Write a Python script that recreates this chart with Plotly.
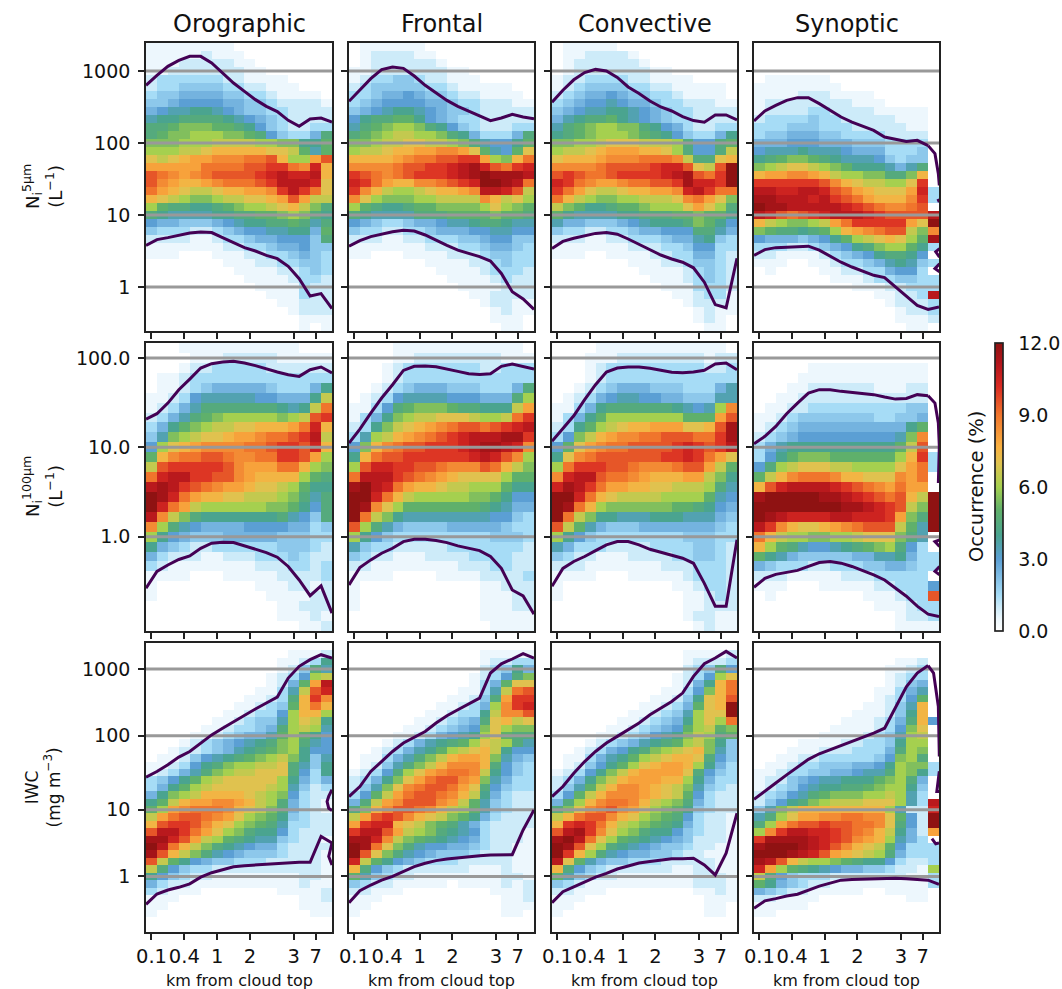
import plotly.graph_objects as go
from plotly.subplots import make_subplots

# cell values are written as one char per cell, half a percent per step:
# 0=0.0 1=0.5 ... 9=4.5 a=5.0 ... o=12.0, "." = no data
CODES = "0123456789abcdefghijklmno"

titles = ["Orographic", "Frontal", "Convective", "Synoptic"]
x_tick_pos = [0, 3, 6, 9, 13, 15]
x_tick_text = ["0.1", "0.4", "1", "2", "3", "7"]
row_ticks = [
    ([3, 12, 21, 30], ["1000", "100", "10", "1"]),
    ([1, 10, 19], ["100.0", "10.0", "1.0"]),
    ([3, 12, 22, 31], ["1000", "100", "10", "1"]),
]
row_labels = ["N<sub>i</sub><sup>5μm</sup><br>(L<sup>−1</sup>)",
              "N<sub>i</sub><sup>100μm</sup><br>(L<sup>−1</sup>)",
              "IWC<br>(mg m<sup>−3</sup>)"]

oro_n5 = ["11111111000000000", "11111211100000000", "11122222110000000", "11222222211000000",
          "23333332211110000", "23344443322111000", "34455554433211110", "44566665544322221",
          "56778876544332222", "78899998765432222", "99abbbaa986432233", "9abbcccbba9643359",
          "bbbcccddddccbb88a", "cccddefffffeeda7ae", "edefgghhhiijfccgj", "gggggiiiijjkkihlf",
          "jihghijjjjklmllmf", "jhgffghiiijkmmmle", "igfeddeffgghkmkie", "fedcbbcddeefgjgdd",
          "ca99889abccdefdb9", "9877778899aabcb98", "6554445678899a979", "4333223456677885a",
          "22221123345566649", "11111112233455644", "11100011122334543", "00000001112233443",
          "00000000111122343", "00000000011112332", "00000000001111322", "00000000000111322",
          "00000000000011222", "00000000000001222", "00000000000000111", "00000000000000101"]
fro_n5 = ["01111110000000000", "01222211000000000", "01222222100000000", "11222222211000000",
          "12334432211100000", "23444443321111100", "33455654432211110", "34566665543322211",
          "45678876544322222", "6899aa86543322222", "79abccb9864322233", "9abcddccb98533359",
          "bbcddeeddcb97668a", "cddeffgghhgea76ae", "ffffghiijjkkgcbfi", "hhhhijjkklmnljikl",
          "kjihijkkklmnonnnm", "lkigffhhijkloonmi", "khfdccdeffghmmljd", "hecbbbccddddhfdec",
          "ca9889aabbbbcecba", "987777999aaaabaa9", "65433455677899877", "43322334555667766",
          "22211223334456644", "11111112223345543", "11000111122234433", "00000001111223433",
          "00000000111123332", "00000000011112322", "00000000001111222", "00000000000112222",
          "00000000000012211", "00000000000001211", "00000000000001110", "00000000000000110"]
con_n5 = ["01111100000000000", "01122221000000000", "01222222100000000", "01222222211000000",
          "12233332211110000", "12344443322111110", "23455654433211110", "34566765543322211",
          "45677887654332222", "57899a87654332222", "79abccbb986532233", "89abcccba98643358",
          "bbccdeeedddc9669a", "cddefgggffec9669d", "efffghhhiiihd99ef", "hhhhijjjjklljedjo",
          "jkjiijkkkklmnjiko", "lkihgghiijjknllko", "kigeddeffgghlmkii", "ifdcbbccdddehigeb",
          "dba889aabcccegec9", "a8777788999aabaa8", "7554445678889ba86", "43322334556669975",
          "22211223334557843", "11111112223346633", "11100111122335532", "00000001112234432",
          "00000000111123432", "00000000011123432", "00000000001113332", "00000000000112331",
          "00000000000012221", "00000000000001211", "00000000000001210", "00000000000000110"]
syn_n5 = ["00000000000000000", "00000000000000000", "00000000000000000", "00000000000000000",
          "01111110000000000", "11111111000000000", "11112221111000000", "12222222211100000",
          "12222332222111110", "23333433222221110", "33344433322222110", "34455544333322220",
          "55566655544433330", "67778777655533340", "89abba98777643440", "bcdeedcba88875790",
          "fgghhgfdccbb99bf0", "kkkkkkjhfeddccek.", "mmllmmljigfeeegl3", "nnmmmlmkjigfffhk3",
          "onnmmmmmlkjihhij.", "mljijklmmmlkjjjjm", "fdcbbcdgikkkkkgeo", "ba9989acfghijjdbh",
          "65554568acdefecan", "33322345689bcca83", "2211112345689986.", "11100112334578743",
          "0100001122335663.", "00000001112334433", "00000000011122333", "0000000000011223m",
          "00000000000012223", "00000000000001223", "00000000000001112", "00000000000000110"]

oro_n100 = ["00011111111111000", "00001112222211111", "00012233333222222", "01123333333333333",
            "01123455555433358", "1123677777665558d", "123579999999878di", "23579abcccccbcdjk",
            "358abcddeefffgilf", "47bcdeefgghiijkmd", "6cefghhhhiijkkjlf", "afhiijjihhiikkjgc",
            "djkkkkkjhgggiifcb", "ilmmkkjjhgffffca9", "mnmkjihggfeedca88", "onligffeedddcb979",
            "oligdccccccbba869", "mhdb9888888897649", "hc976555566665534", "c8654445555544433",
            "85432233333344432", "53222112223334322", "32111111112223323", "11110001111122223",
            "10000000001112212", "10000000000111122", "00000000000011222", "00000000000011121",
            "00000000000000112"]
fro_n100 = ["00001111111111110", "00001122222222111", "00012333333322333", "00012333333333333",
            "00123455544433359", "0123677776665559c", "11369abbba99888dg", "1358bcddeeedccdik",
            "238bdefghijjijklm", "37cdfghijklmmmnnk", "6bfhijjkkklmnnmlh", "8fijjkkkkkklmljhc",
            "cjllkkjjihhhjifdb", "immmkjihgfeeeecaa", "nomligffeddccca88", "oolifdcccccbba866",
            "onhecaaaaaaa98755", "oidb8777777776643", "jc975444455555433", "c8643333333334443",
            "74332222233333332", "43221112222333322", "22111111112223322", "11110000111122223",
            "10000000000011222", "10000000000011122", "10000000000011122", "00000000000011111",
            "00000000000001111"]
con_n100 = ["00001111111111110", "00011122222222122", "00012333333333223", "00012333333333333",
            "00123455544433357", "01235677665544477", "113589999998767ch", "1358acccccccaaagj",
            "238acdeffgggeefjn", "36bdfghhiijjjiikn", "6aeghiijjjjklkjkm", "8ehijjjjjjkklkige",
            "cikkkjjihhhijjgda", "hlmmjiihgfffggdb8", "lnmkiggffeedddc97", "oolifeddddcccca76",
            "onifcbbbbbbaa9865", "oidb8877788877754", "jda75444555555543", "c8643333333344433",
            "75333222233334432", "43221112222334432", "22211111112223332", "11110001111123332",
            "10000000000112332", "10000000000011232", "00000000000011222", "00000000000012211",
            "00000000000001211"]
syn_n100 = ["00000000000000000", "00000000000000000", "00000111111111110", "00001111111111110",
            "00011222222111220", "00112222222222220", "01122333333333440", "11234444444334450",
            "123455555555558a0", "23456666666667bh0", "3578888888888adj0", "368abbbaaaaaacfk3",
            "69cdeeeddccccegi3", "adfhiiihffeeehgi.", "fjlmmmmlkjihgigg.", "nooooonnmlkjijfdo",
            "oooooooonnmlkjdbo", "onmllllmmlllkgb9o", "mkhfeefghijjjda7o", "ifdccbbccdeeeb97.",
            "fca9766789abc963.", "a8754444455778533", "54333223334455433", "2221111122233333.",
            "11100011111223336", "0100000000111233j", "00000000000111233", "00000000000001223",
            "00000000000001111"]

oro_iwc = ["00000000000000000", "00000000000001112", "00000000000011238", "00000000000012497",
           "000000000001236cd", "00000000000125agm", "00000000001137djl", "00000000011239fkh",
           "0000000011234afif", "0000000112336cffc", "0000001123447ced8", "0000011233459cdc7",
           "000011234557aca86", "000123456789bc976", "00122345789abc866", "011246789abcdb847",
           "1123689bccdde9748", "123579bcddeee9638", "3468acdeeeeec8535", "358acdeeeeedc7423",
           "58bcdffffedcb6322", "8adfgghhgfdc95321", "acghiiihfedb95321", "dgijjihgecba84322",
           "fjkkjhfecba973322", "jmmkigecb98863222", "nnljgdca987743221", "omifdb98765532222",
           "njfdb976544432221", "jda86544333222221", "d9643322222222221", "86432211111111221",
           "53221111111111211", "32111000000011112", "11100000000000112", "11000000000000111",
           "10000000000000011", "00000000000000000", "00000000000000000"]
fro_iwc = ["00000000000000000", "00000000000011111", "00000000000012233", "00000000000023485",
           "0000000000012369b", "00000000000135aee", "00000000001137dij", "00000000011249gkk",
           "0000000011235chkl", "0000000112338dhhj", "0000001123459efde", "000001123456becbb",
           "000011235678cea99", "0001235789acedc97", "00123578acdefd866", "0113579bdfggfb754",
           "012479bdfhhhf9643", "12369ceghiihd8643", "2358begijjhgb7533", "247behijjige96433",
           "36adgijjihfd85322", "59dghjjjhgda74322", "9bfhjjihfdca74322", "dgjkjhfedba853222",
           "gkllfedba97532222", "kmmjgdcb987632221", "nnlhdba9876532221", "onieb976655432211",
           "ojeb9765444322211", "lda86543332222211", "f9643222222111211", "a7432211111111221",
           "43221111101111212", "22111000000001112", "11100000000000112", "11000000000000111",
           "10000000000000110", "00000000000000000", "00000000000000000"]
con_iwc = ["00000000000000000", "00000000000011112", "00000000000012223", "00000000000023496",
           "000000000001236ce", "000000000001258fi", "00000000001136bfi", "00000000011248efj",
           "0000000011235aefo", "0000000112347ceeo", "0000001123458ceci", "000001123456acdab",
           "000011234678bdc9a", "00012345789acdb84", "001235689bcdefb74", "0113578acdeffe964",
           "012468acefggfc853", "12368bdfgggge9643", "2358bdfgggffc8533", "247adfhhgfedb7432",
           "36adfhhhgfeda6322", "59cfhiihfdcb95322", "9behijhgecba84322", "dfijjhfecba963221",
           "fklkifdcba9853221", "jmnkhecb988643221", "nomieca9876542221", "onjec987654432211",
           "okfc9765544322111", "mea75443332222211", "f9643222222112211", "a7432211111112221",
           "43211111111112221", "22111000000001121", "11100000000000111", "11000000000000110",
           "10000000000000110", "00000000000000000", "00000000000000000"]
syn_iwc = ["00000000000000000", "00000000000000000", "00000000000001120", "00000000000011230",
           "00000000000012330", "00000000000012450", "00000000000113570", "000000000001236a0",
           "000000000011247f0", "000000000111248f0", "000000001112359f6", "00000001111236be.",
           "00000011112347cd.", "00001111223348cc.", "00011122233359cb.", "0011223333346bc9.",
           "0112334445568cbb3", "1123344556779cb83", "12245677888abc95.", "1234678899abcc84.",
           "234679abbbccdc73.", "24689bcdddeeec73m", "47bdffffffffc722l", "79cegghhiihhea62o",
           "9cgijjkjjiihe962o", "chkmmllkjihfd852g", "knnnnmlkjhgfc753.", "nooonmljhfeda6333",
           "ooonmljgfedc95333", "nmjfdccba98863223", "lgca987655443221c", "d9643332222222113",
           "a8543221111111113", "54322111110011110", "22111100000000110", "11111000000000000",
           "11000000000000000", "00000000000000000", "00000000000000000"]

# contours, in bin units counted from the top of each panel, one value per bin edge
oro_n5_up = [4.79, 3.54, 2.42, 1.67, 1.17, 1.17, 2, 3.25, 4.5, 5.54, 6.58, 7.42, 8.08, 9.17, 9.92, 9, 8.88, 9.38]
oro_n5_lo = [24.8, 24.08, 23.83, 23.54, 23.25, 23.13, 23.2, 23.83, 24.5, 25.08, 25.5, 26.04, 26.46, 27.42, 28.96, 31.13, 30.83, 32.7]
fro_n5_up = [6.79, 5.42, 3.96, 2.83, 2.5, 2.67, 3.63, 4.79, 5.75, 6.67, 7.42, 8, 8.67, 9.21, 8.88, 8.42, 8.75, 8.96]
fro_n5_lo = [24.9, 24.2, 23.7, 23.4, 23.1, 22.9, 23, 23.5, 24.2, 24.8, 25.4, 25.8, 26.2, 26.75, 28.3, 30.6, 31.5, 32.8]
con_n5_up = [6.9, 5.4, 4.1, 3.2, 2.8, 3, 3.8, 5, 5.8, 6.75, 7.5, 8, 8.7, 9.2, 9.4, 8.5, 8.5, 9.1]
con_n5_lo = [25.2, 24.3, 23.9, 23.6, 23.3, 23.2, 23.4, 24, 24.7, 25.3, 26, 26.5, 26.9, 27.6, 29.4, 32.2, 32.6, 26.4]
syn_n5_up = [9.25, 8, 7.3, 6.67, 6.33, 6.33, 7.08, 7.92, 8.75, 9.38, 9.92, 10.42, 11.25, 11.54, 11.8, 11.67, 12.33]
syn_n5_lo = [26.04, 25.33, 25.08, 25, 24.9, 24.9, 25.4, 26.17, 26.9, 27.5, 28, 28.54, 28.83, 30, 31.25, 32.3, 32.8, 32.5]

oro_n100_up = [7.16, 6.62, 5.55, 4.2, 3.13, 2.02, 1.58, 1.42, 1.35, 1.52, 1.78, 2.12, 2.42, 2.69, 2.86, 2.19, 1.92, 2.52]
oro_n100_lo = [24.2, 22.5, 21.85, 21.3, 20.94, 20.17, 19.66, 19.56, 19.6, 19.93, 20.33, 20.6, 21.07, 22, 23.36, 24.94, 23.96, 26.7]
fro_n100_up = [9.58, 8.17, 6.56, 5.04, 3.7, 2.26, 1.85, 1.82, 1.89, 2.09, 2.36, 2.59, 2.66, 2.59, 1.85, 1.62, 1.85, 2.12]
fro_n100_lo = [23.86, 22.1, 21.34, 20.67, 20.17, 19.5, 19.26, 19.26, 19.39, 19.6, 19.93, 20.17, 20.4, 21, 22.18, 24.37, 24.97, 26.8]
con_n100_up = [9.4, 8.07, 6.83, 5.2, 3.7, 2.42, 2.02, 1.92, 1.92, 2.05, 2.25, 2.45, 2.5, 2.42, 2.25, 1.62, 1.52, 2.19]
con_n100_lo = [24, 22.2, 21.5, 21, 20.4, 19.83, 19.5, 19.5, 19.83, 20.27, 20.57, 20.84, 21.17, 21.68, 23.7, 26, 26, 19.3]
syn_n100_up = [9.65, 8.9, 7.9, 6.62, 5.55, 4.54, 4.2, 4.2, 4.37, 4.47, 4.54, 4.7, 4.94, 5.15, 5.08, 4.7, 4.81]
syn_n100_lo = [24.1, 23.2, 22.8, 22.6, 22.4, 22, 21.6, 21.5, 21.67, 22, 22.4, 22.85, 23.36, 24.2, 25, 26, 26.8, 27.05]

oro_iwc_up = [17.6, 16.84, 15.93, 14.9, 14.14, 13, 11.9, 11, 10.1, 9.3, 8.4, 7.6, 6.8, 4.23, 2.65, 1.75, 1.08, 1.53]
oro_iwc_lo = [34.77, 33.37, 32.83, 32.47, 32, 31.1, 30.5, 30.1, 29.7, 29.55, 29.45, 29.3, 29.2, 29.1, 29.1, 29.1, 25.6, 26.5]
fro_iwc_up = [20.22, 18.87, 16.84, 15.5, 14.14, 13, 12.2, 11.44, 10.3, 9.32, 8.5, 7.7, 6.93, 3.55, 2.3, 1.66, 0.94, 1.53]
fro_iwc_lo = [34.55, 32.92, 32.16, 31.5, 31, 30.36, 29.68, 29.23, 28.87, 28.64, 28.46, 28.33, 28.2, 28.1, 28.06, 28.06, 24.73, 22.02]
con_iwc_up = [20.22, 18.87, 17.07, 15.5, 14.14, 13, 12.1, 11.2, 10.3, 9.18, 8.28, 7.4, 6.26, 4, 2.3, 1.53, 0.63, 1.53]
con_iwc_lo = [34.55, 33.06, 32.4, 31.7, 31.1, 30.6, 30, 29.6, 29.2, 29, 28.8, 28.6, 28.6, 28.55, 29.46, 30.8, 27.87, 22.47]
syn_iwc_up = [20.6, 19.55, 18.4, 17.3, 16.2, 15.2, 14.45, 13.9, 13.4, 12.8, 12.3, 11.66, 11, 8.3, 5.4, 3.55, 2.55]
syn_iwc_lo = [35.3, 34.3, 34, 33.64, 33.4, 32.8, 32.3, 31.9, 31.5, 31.4, 31.35, 31.3, 31.26, 31.26, 31.3, 31.35, 31.5, 32.07]

# bits of contour in the last bin, where it folds back on itself
folds = {
    (0, 3): [([15.5, 16.13, 16.44, 16.53], [12.33, 13.33, 15.83, 17.3]), ([16.4, 16.53], [19, 19.4]),
             ([16.55, 16.2, 16.55], [25.2, 25.6, 26.25]), ([16.55, 16.13, 16.55], [27.1, 27.7, 28.1])],
    (1, 3): [([15.5, 16.13, 16.44, 16.53, 16.44], [4.81, 5.55, 7.56, 9.9, 13.6]),
             ([16.55, 16.13, 16.55], [19.33, 19.5, 20]), ([16.55, 16.13, 16.55], [22, 22.5, 22.85])],
    (2, 0): [([16.5, 16.2, 16.5], [26.5, 28.3, 29.45]),
             ([16.5, 16.2, 16.05, 16.2, 16.5], [19.3, 20.2, 20.9, 21.8, 22.1])],
    (2, 3): [([15.5, 16, 16.44, 16.53], [2.55, 3.55, 8.06, 14.8]), ([16.53, 16.3, 16.53], [16.8, 19.55, 19.55]),
             ([15.85, 16.2, 16.5], [25.9, 26.6, 26.5])],
}

heat_grid = [[oro_n5, fro_n5, con_n5, syn_n5],
             [oro_n100, fro_n100, con_n100, syn_n100],
             [oro_iwc, fro_iwc, con_iwc, syn_iwc]]
upper_grid = [[oro_n5_up, fro_n5_up, con_n5_up, syn_n5_up],
              [oro_n100_up, fro_n100_up, con_n100_up, syn_n100_up],
              [oro_iwc_up, fro_iwc_up, con_iwc_up, syn_iwc_up]]
lower_grid = [[oro_n5_lo, fro_n5_lo, con_n5_lo, syn_n5_lo],
              [oro_n100_lo, fro_n100_lo, con_n100_lo, syn_n100_lo],
              [oro_iwc_lo, fro_iwc_lo, con_iwc_lo, syn_iwc_lo]]

colorscale = [[0, "#ffffff"], [0.04, "#eef8fd"], [0.083, "#cdebf9"], [0.125, "#a6dcf6"], [0.25, "#5b9fd4"], [0.333, "#4aa48f"],
              [0.42, "#60b06a"], [0.5, "#a5d04f"], [0.583, "#e0c24f"], [0.64, "#f9b040"], [0.75, "#f0752c"],
              [0.85, "#d92a22"], [0.93, "#b3151c"], [1, "#8f1212"]]

W, H = 1062, 989
col_px = [(146, 332), (349, 534), (552, 737), (754, 939)]
row_px = [(43, 331), (343, 631), (643, 932)]
FONT = "DejaVu Sans"
INK = "#222222"


def decode(rows):
    out = []
    for r in rows:
        r = r.ljust(17, "0")[:17]
        out.append([None if c == "." else CODES.index(c) / 2 for c in r])
    return out


fig = make_subplots(rows=3, cols=4)
for r in range(3):
    for c in range(4):
        z = decode(heat_grid[r][c])
        n = len(z)
        fig.add_trace(go.Heatmap(z=z, coloraxis="coloraxis", hoverongaps=False), row=r + 1, col=c + 1)
        for pos in row_ticks[r][0]:
            fig.add_trace(go.Scatter(x=[-0.5, 16.5], y=[pos, pos], mode="lines",
                                     line=dict(color="#999999", width=3)), row=r + 1, col=c + 1)
        lines = [upper_grid[r][c], lower_grid[r][c]]
        for yy in lines:
            xx = [i - 0.5 for i in range(len(yy))]
            fig.add_trace(go.Scatter(x=xx, y=yy, mode="lines",
                                     line=dict(color="#440154", width=3)), row=r + 1, col=c + 1)
        for xx, yy in folds.get((r, c), []):
            fig.add_trace(go.Scatter(x=xx, y=yy, mode="lines", line=dict(color="#440154", width=3)),
                          row=r + 1, col=c + 1)
        fig.update_xaxes(domain=[col_px[c][0] / W, col_px[c][1] / W], range=[-0.5, 16.5], tickmode="array",
                         tickvals=x_tick_pos, ticktext=x_tick_text, showticklabels=(r == 2), tickangle=0,
                         ticks="outside", ticklen=6, tickwidth=1.5, tickcolor=INK, showgrid=False, zeroline=False,
                         showline=True, mirror=True, linecolor=INK, linewidth=1.7,
                         tickfont=dict(size=19.5, family=FONT, color="#111111"), row=r + 1, col=c + 1)
        fig.update_yaxes(domain=[1 - row_px[r][1] / H, 1 - row_px[r][0] / H], range=[n - 0.5, -0.5], tickmode="array",
                         tickvals=row_ticks[r][0], ticktext=row_ticks[r][1], showticklabels=(c == 0),
                         ticks="outside", ticklen=6, tickwidth=1.5, tickcolor=INK, showgrid=False, zeroline=False,
                         showline=True, mirror=True, linecolor=INK, linewidth=1.7, ticklabelstandoff=4,
                         tickfont=dict(size=19, family=FONT, color="#111111"), row=r + 1, col=c + 1)


def note(text, x, y, size, angle=0):
    fig.add_annotation(text=text, x=x / W, y=1 - y / H, xref="paper", yref="paper", showarrow=False, textangle=angle,
                       xanchor="center", yanchor="middle", font=dict(size=size, family=FONT, color="#111111"))


for c in range(4):
    mid = sum(col_px[c]) / 2
    note(titles[c], mid, 24, 24)
    note("km from cloud top", mid, 980, 16)
note(row_labels[0], 42, sum(row_px[0]) / 2, 18, -90)
note(row_labels[1], 42, sum(row_px[1]) / 2, 18, -90)
note(row_labels[2], 42, sum(row_px[2]) / 2, 17, -90)
note("Occurrence (%)", 976, 487, 19.5, -90)

fig.update_layout(
    width=W, height=H, margin=dict(l=0, r=0, t=0, b=0, autoexpand=False), showlegend=False,
    paper_bgcolor="white", plot_bgcolor="white",
    coloraxis=dict(
        cmin=0, cmax=12, colorscale=colorscale,
        colorbar=dict(x=995 / W, xanchor="left", y=1 - 343 / H, yanchor="top",
                      len=288 / H, lenmode="fraction", thickness=8, thicknessmode="pixels", outlinecolor=INK,
                      outlinewidth=1.7, tickmode="array", tickvals=[0, 3, 6, 9, 12],
                      ticktext=["0.0", "3.0", "6.0", "9.0", "12.0"], ticks="outside", ticklen=11,
                      tickcolor="rgba(0,0,0,0)", xpad=0, ypad=0,
                      tickfont=dict(size=19, family=FONT, color="#111111")),
    ),
)

fig.write_html("out.html", config={"displayModeBar": False},
               post_script="document.body.style.margin='0';document.body.style.overflow='hidden';")
